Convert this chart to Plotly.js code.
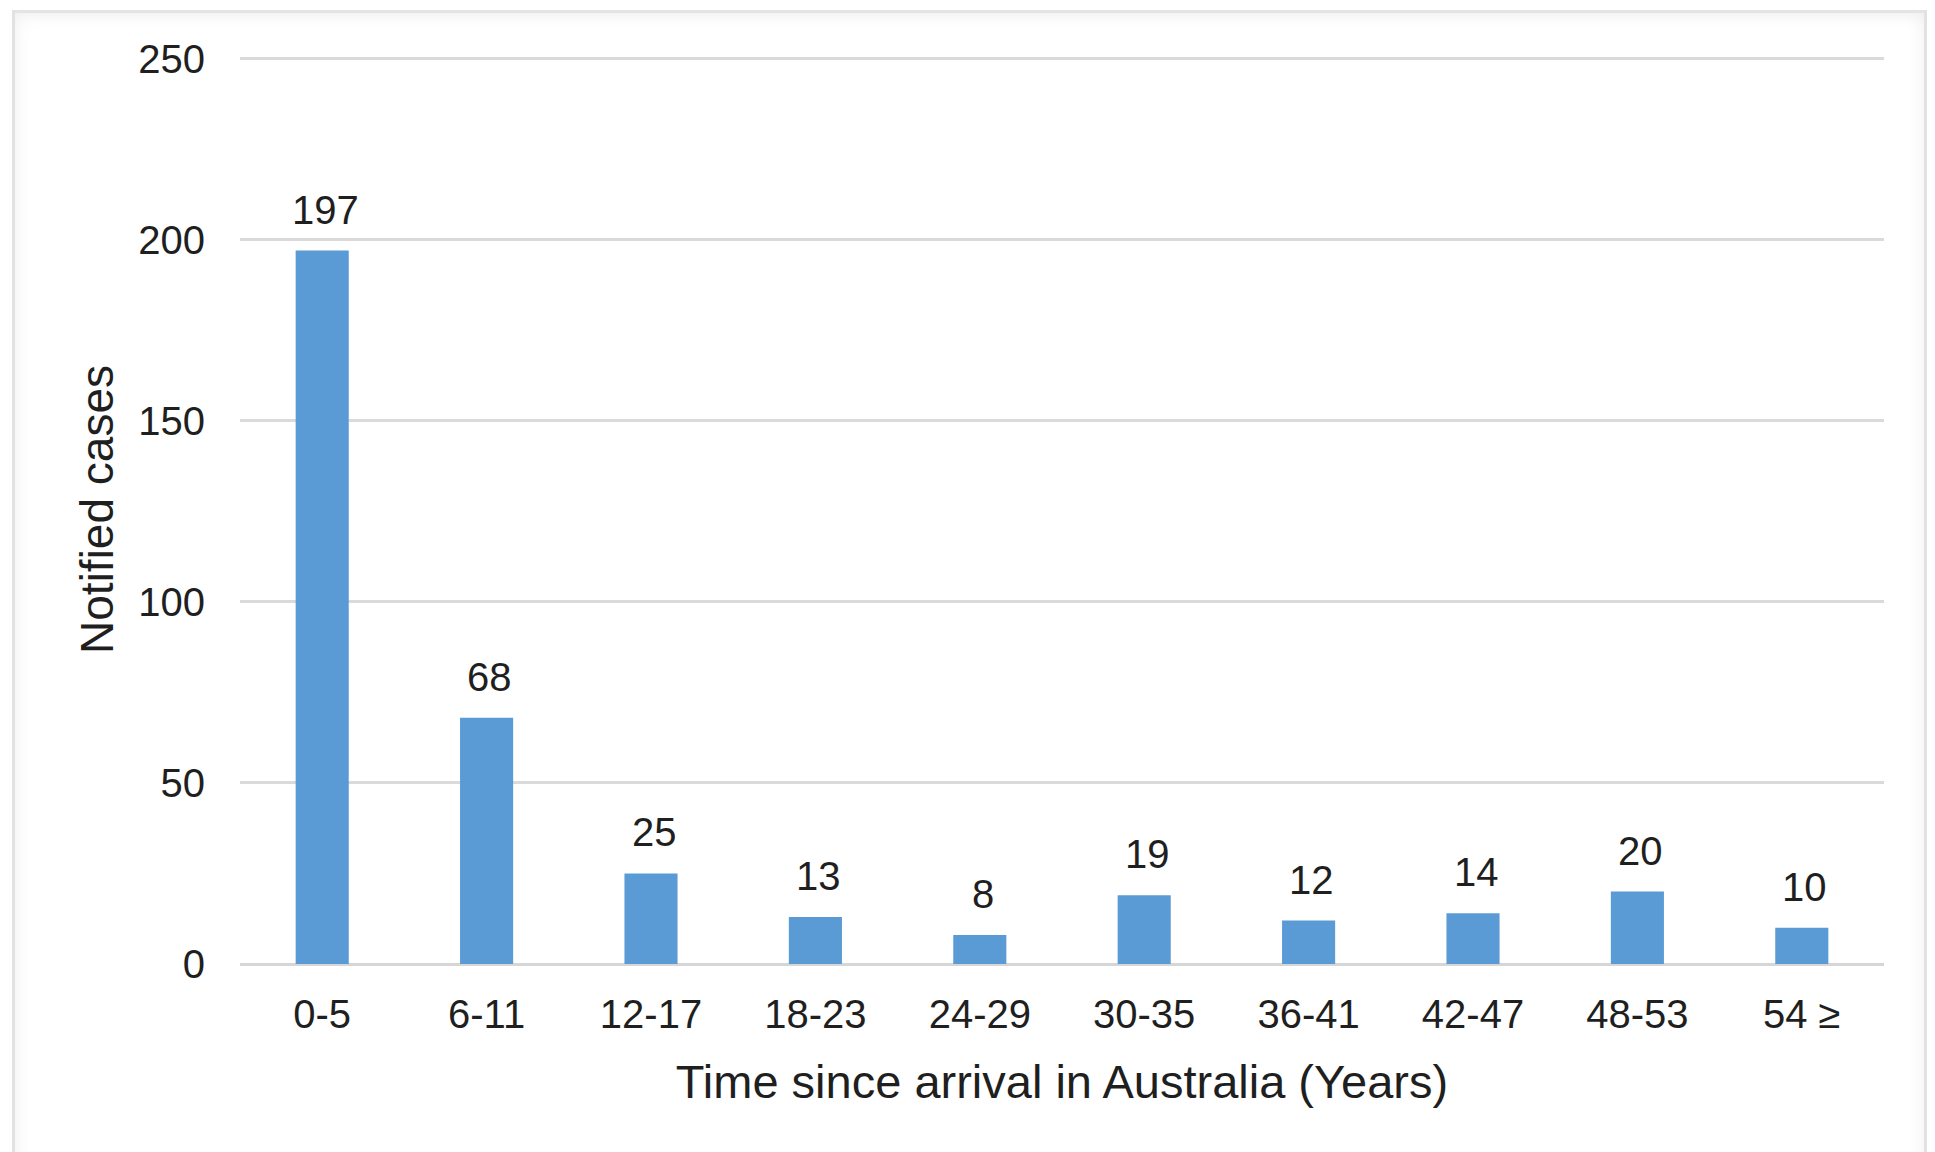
<!DOCTYPE html>
<html>
<head>
<meta charset="utf-8">
<script src="https://cdn.plot.ly/plotly-3.0.1.min.js"></script>
<style>
  html, body { margin: 0; padding: 0; background: #ffffff; }
  #wrap { position: relative; width: 1935px; height: 1152px; overflow: hidden; }
  #chart { position: absolute; left: 0; top: 0; width: 1935px; height: 1152px; }
  #frame {
    position: absolute; left: 12px; top: 10px; width: 1915px; height: 1160px;
    border-left: 3px solid #e2e2e2; border-top: 3px solid #e4e4e4; border-right: 3px solid #e2e2e2;
    box-shadow: inset 6px 6px 14px rgba(0,0,0,0.035), inset -6px 0 14px rgba(0,0,0,0.035);
    pointer-events: none; box-sizing: border-box;
  }
</style>
</head>
<body>
<div id="wrap">
  <div id="chart"></div>
  <div id="frame"></div>
</div>
<script>
// Notified cases by time since arrival in Australia
const periods = ["0-5", "6-11", "12-17", "18-23", "24-29", "30-35", "36-41", "42-47", "48-53", "54 \u2265"];
const cases = [197, 68, 25, 13, 8, 19, 12, 14, 20, 10];
const yTicks = [0, 50, 100, 150, 200, 250];

const FONT = "Liberation Sans, Arial, Helvetica, sans-serif";
const INK = "#1f1f1f";

const trace = {
  type: "bar",
  x: periods,
  y: cases,
  marker: { color: "#5B9BD5", line: { width: 0 } },
  hoverinfo: "x+y"
};

// value labels sit a little above each bar
const labels = periods.map((p, i) => ({
  x: p,
  y: cases[i],
  xref: "x",
  yref: "y",
  text: String(cases[i]),
  showarrow: false,
  yanchor: "bottom",
  yshift: 17,
  xshift: 3,
  font: { family: FONT, size: 40, color: INK }
}));

const layout = {
  width: 1935,
  height: 1152,
  paper_bgcolor: "#ffffff",
  plot_bgcolor: "#ffffff",
  margin: { l: 240, r: 51, t: 55, b: 188, pad: 0 },
  showlegend: false,
  bargap: 0.677,
  font: { family: FONT, color: INK },
  xaxis: {
    type: "category",
    range: [-0.5, 9.5],
    showgrid: false,
    showline: false,
    zeroline: false,
    ticks: "",
    ticklabelstandoff: 23,
    tickfont: { family: FONT, size: 40, color: INK },
    title: {
      text: "Time since arrival in Australia (Years)",
      font: { family: FONT, size: 47, color: INK },
      standoff: 30
    }
  },
  yaxis: {
    range: [0, 251],
    tickvals: yTicks,
    ticktext: yTicks.map(String),
    showgrid: true,
    gridcolor: "#dadada",
    gridwidth: 3,
    zeroline: true,
    zerolinecolor: "#d6d6d6",
    zerolinewidth: 3,
    showline: false,
    ticks: "",
    ticklabelstandoff: 34,
    tickfont: { family: FONT, size: 40, color: INK },
    title: {
      text: "Notified cases",
      font: { family: FONT, size: 46, color: INK },
      standoff: 10
    }
  },
  annotations: labels
};

Plotly.newPlot("chart", [trace], layout, { displayModeBar: false, staticPlot: true });
</script>
</body>
</html>
